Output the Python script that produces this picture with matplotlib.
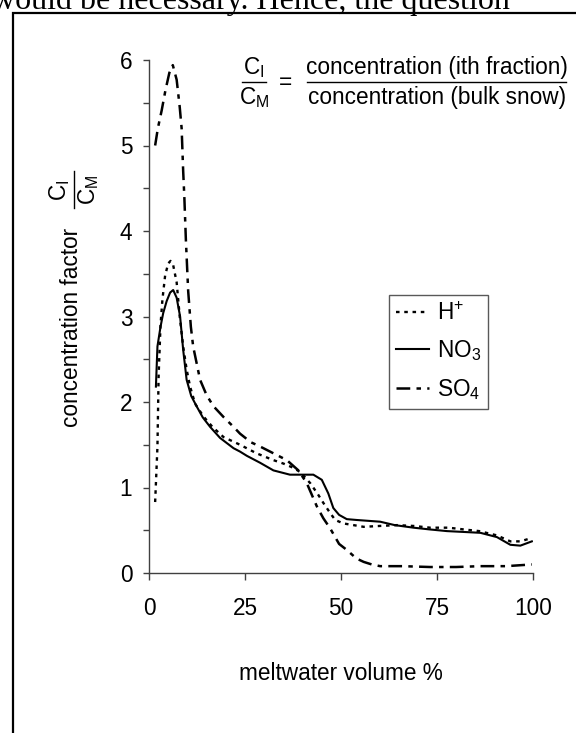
import matplotlib
matplotlib.use("Agg")
import matplotlib.pyplot as plt
from matplotlib.lines import Line2D
from matplotlib.ticker import MultipleLocator

plt.rcParams['font.family'] = ['Liberation Sans', 'DejaVu Sans']
plt.rcParams['mathtext.default'] = 'regular'

# ---- data ----
h_x = [1.6, 2.2, 2.5, 3.0, 3.5, 4.2, 5.0, 5.6, 6.3, 7.2, 8.0, 8.9, 9.8, 10.7, 12.0,
       14.2, 16.5, 19.4, 23.7, 28.0, 32.4, 35.0, 37.6, 39.4, 42.0, 44.0, 45.4, 47.2,
       48.5, 50.6, 55.9, 60.0, 64.6, 69.0, 73.2, 78.0, 81.9, 86.0, 90.6, 94.1, 96.7, 99.7]
h_y = [0.83, 1.48, 2.3, 2.9, 3.2, 3.48, 3.62, 3.65, 3.6, 3.4, 3.0, 2.65, 2.38, 2.18, 1.98,
       1.83, 1.71, 1.59, 1.50, 1.40, 1.32, 1.28, 1.23, 1.18, 1.05, 0.92, 0.82, 0.70,
       0.62, 0.58, 0.54, 0.55, 0.56, 0.55, 0.53, 0.53, 0.51, 0.49, 0.44, 0.37, 0.37, 0.41]

no3_x = [1.8, 2.2, 3.0, 3.7, 4.6, 5.5, 6.3, 7.2, 8.1, 8.9, 9.8, 11.0, 12.4, 14.0, 15.9,
         18.5, 22.0, 23.7, 25.5, 28.9, 32.4, 36.7, 40.2, 42.8, 45.0, 46.7, 48.0, 49.5,
         51.5, 54.1, 60.2, 64.0, 68.9, 73.0, 77.6, 82.0, 86.3, 90.6, 94.1, 96.7, 99.7]
no3_y = [2.18, 2.65, 2.88, 3.04, 3.18, 3.28, 3.31, 3.22, 3.0, 2.61, 2.26, 2.07, 1.95, 1.82, 1.71,
         1.58, 1.46, 1.42, 1.37, 1.29, 1.20, 1.15, 1.15, 1.15, 1.09, 0.93, 0.76, 0.68,
         0.63, 0.62, 0.60, 0.56, 0.53, 0.51, 0.49, 0.48, 0.47, 0.42, 0.33, 0.32, 0.37]

so4_x = [1.6, 2.3, 3.3, 4.3, 5.3, 6.2, 7.2, 8.0, 8.5, 8.9, 9.2, 9.6, 10.2, 10.9, 11.5,
         13.3, 15.0, 16.8, 19.5, 22.0, 23.7, 26.5, 28.9, 32.4, 35.9, 38.9, 41.1, 43.7,
         45.4, 47.2, 49.5, 51.5, 54.0, 55.9, 58.0, 60.2, 66.0, 73.2, 80.0, 86.3, 93.0, 99.7]
so4_y = [5.0, 5.2, 5.41, 5.65, 5.85, 5.94, 5.77, 5.45, 5.2, 4.7, 4.4, 3.9, 3.3, 2.88, 2.65,
         2.26, 2.08, 1.95, 1.82, 1.71, 1.63, 1.53, 1.48, 1.40, 1.32, 1.20, 1.05, 0.78,
         0.64, 0.52, 0.34, 0.27, 0.17, 0.13, 0.10, 0.08, 0.08, 0.07, 0.07, 0.08, 0.08, 0.10]

series_labels = [r'H$^{+}$', r'NO$_3$', r'SO$_4$']
x_ticks = [0, 25, 50, 75, 100]
y_ticks = [0, 1, 2, 3, 4, 5, 6]

W, H = 576, 733
def fx(x):
    return x / W
def fy(y):
    return 1 - y / H

FS = 16.3
fig = plt.figure(figsize=(W / 100, H / 100), dpi=100)
ax = fig.add_axes([fx(149), fy(573), (533 - 149) / W, (573 - 60) / H])

ax.plot(h_x, h_y, color='black', lw=1.7, linestyle=(0, (1.5, 2.0)), label=series_labels[0])
ax.plot(no3_x, no3_y, color='black', lw=1.5, linestyle='-', label=series_labels[1])
ax.plot(so4_x, so4_y, color='black', lw=1.8, linestyle=(0, (5.5, 2.5, 1.8, 2.5)), label=series_labels[2])

ax.set_xlim(0, 100)
ax.set_ylim(0, 6)
ax.set_xticks(x_ticks)
ax.set_xticklabels([str(t) for t in x_ticks])
ax.set_yticks(y_ticks)
ax.set_yticklabels([str(t) for t in y_ticks])
ax.yaxis.set_minor_locator(MultipleLocator(0.5))
for s in ['top', 'right']:
    ax.spines[s].set_visible(False)
for s in ['left', 'bottom']:
    ax.spines[s].set_color('#404040')
    ax.spines[s].set_linewidth(1.0)
    ax.spines[s].set_clip_on(False)
ax.tick_params(axis='y', which='both', direction='out', length=4, width=1, color='#404040',
               labelsize=FS, pad=8)
ax.tick_params(axis='x', which='both', direction='out', length=5, width=1, color='#404040',
               labelsize=FS, pad=12)

leg = ax.legend(loc='upper left', bbox_to_anchor=(fx(389), fy(295)),
                bbox_transform=fig.transFigure, fontsize=FS, frameon=True,
                fancybox=False, edgecolor='#303030', borderpad=0.3,
                handlelength=1.45, handletextpad=0.35, labelspacing=0.6,
                borderaxespad=0)
leg.get_frame().set_linewidth(1.0)

# x label
fig.text(fx(341), fy(680), 'meltwater volume %', ha='center', va='baseline', fontsize=FS)

# y label with rotated fraction
fig.text(fx(72), fy(228), 'concentration factor', rotation=90, ha='center', va='top',
         fontsize=FS)
fig.text(fx(60), fy(190), r'$C_I$', rotation=90, ha='center', va='center', fontsize=FS)
fig.text(fx(89), fy(190), r'$C_M$', rotation=90, ha='center', va='center', fontsize=FS)
fig.add_artist(Line2D([fx(74), fx(74)], [fy(171), fy(208)], color='black', lw=1.0,
                      transform=fig.transFigure))

# formula at top right
fig.text(fx(254), fy(74), r'$C_I$', ha='center', va='baseline', fontsize=FS)
fig.text(fx(254), fy(104), r'$C_M$', ha='center', va='baseline', fontsize=FS)
fig.add_artist(Line2D([fx(242), fx(266)], [fy(82), fy(82)], color='black', lw=1.0,
                      transform=fig.transFigure))
fig.text(fx(286), fy(89), '=', ha='center', va='baseline', fontsize=FS)
fig.text(fx(437), fy(74), 'concentration (ith fraction)', ha='center', va='baseline', fontsize=FS)
fig.text(fx(437), fy(104), 'concentration (bulk snow)', ha='center', va='baseline', fontsize=FS)
fig.add_artist(Line2D([fx(307), fx(566)], [fy(82), fy(82)], color='black', lw=1.0,
                      transform=fig.transFigure))

# page fragments: text line above and frame border
fig.text(fx(-8), fy(9), 'would be necessary. Hence, the question', ha='left', va='baseline',
         fontsize=23, family=['Liberation Serif', 'DejaVu Serif'])
fig.add_artist(Line2D([fx(13), fx(13), fx(580)], [fy(740), fy(13), fy(13)], color='black',
                      lw=1.6, transform=fig.transFigure, solid_joinstyle='miter'))

fig.savefig('out.png', dpi=100)
